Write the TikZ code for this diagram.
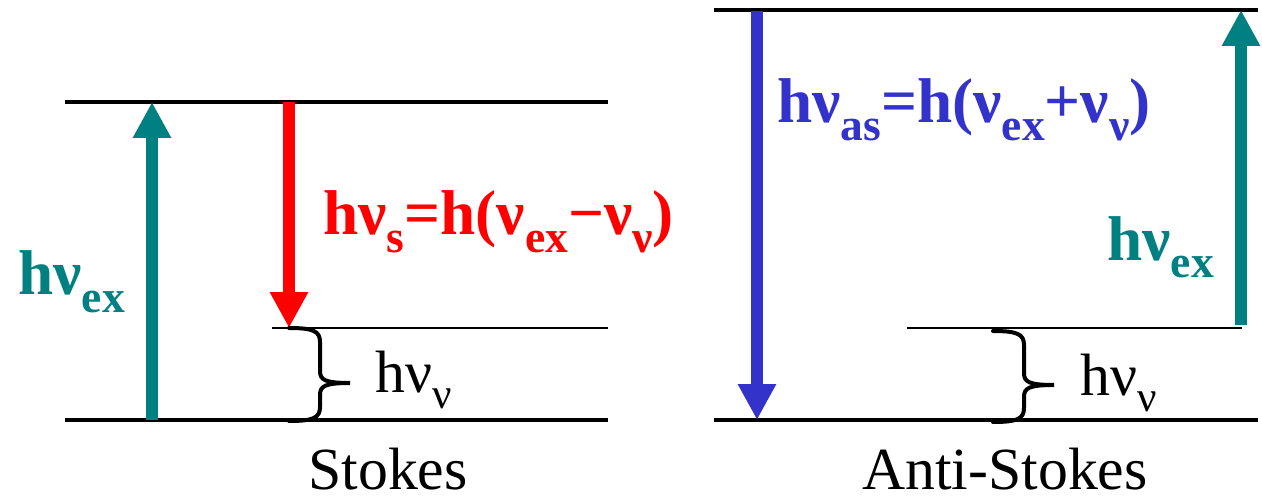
\documentclass[tikz,border=0pt]{standalone}
\usepackage{fontspec}
\setmainfont{Liberation Serif}
\usepackage{xcolor}
\usetikzlibrary{arrows.meta}
\definecolor{exteal}{RGB}{0,128,128}
\definecolor{asblue}{RGB}{51,51,204}
\newcommand{\lo}[1]{\raisebox{-0.28em}{\scalebox{0.72}{#1}}}
\newcommand{\boldlbl}{\fontsize{36}{40}\selectfont\bfseries}
\newcommand{\reglbl}{\fontsize{34}{40}\selectfont}
% x, top, bottom, tip of a right-pointing curly brace
\newcommand{\vbrace}[4]{%
  \draw[bracestroke] (#1,#2) .. controls ({#1+24},{#2}) and ({#1+31},{#2+3}) .. ({#1+31},{#2+14})
    -- ({#1+31},{#4-12}) .. controls ({#1+31},{#4-3}) and ({#1+36},{#4}) .. ({#1+61},{#4})
    .. controls ({#1+36},{#4}) and ({#1+31},{#4+3}) .. ({#1+31},{#4+12})
    -- ({#1+31},{#3-14}) .. controls ({#1+31},{#3-3}) and ({#1+24},{#3}) .. (#1,#3);}

\begin{document}
\begin{tikzpicture}[x=0.02cm,y=-0.02cm,
  level/.style={line width=0.065cm},
  sublevel/.style={line width=0.028cm},
  photon/.style={line width=0.24cm,-{Triangle[length=0.72cm,width=0.72cm]}},
  bracestroke/.style={line width=0.08cm,line cap=round},
  lbl/.style={inner sep=0pt,anchor=base west}]
  \useasboundingbox (0,0) rectangle (1262,500);
  % Stokes
  \coordinate (sT) at (65,102); \coordinate (sTr) at (608,102);
  \coordinate (sM) at (272,328); \coordinate (sMr) at (608,328);
  \coordinate (sB) at (65,420); \coordinate (sBr) at (608,420);
  \draw[level] (sT) -- (sTr);
  \draw[sublevel] (sM) -- (sMr);
  \draw[level] (sB) -- (sBr);
  \coordinate (exfrom) at (152,420); \coordinate (exto) at (152,102);
  \coordinate (sfrom) at (289,102); \coordinate (sto) at (289,328);
  \draw[photon,exteal] (exfrom) -- (exto);
  \draw[photon,red] (sfrom) -- (sto);
  \vbrace{289}{328}{421}{383}
  \node[lbl,exteal] (exl) at (18,295) {\boldlbl hν\lo{ex}};
  \node[lbl,red] (sl) at (323,235) {\boldlbl hν\lo{s}=h(ν\lo{ex}−ν\lo{ν})};
  \node[lbl] (vibl) at (375,392) {\reglbl hν\lo{ν}};
  \node[inner sep=0pt,anchor=base] (stokes) at (388,489) {\reglbl Stokes};
  % Anti-Stokes
  \coordinate (aT) at (714,10); \coordinate (aTr) at (1258,10);
  \coordinate (aM) at (907,328); \coordinate (aMr) at (1242,328);
  \coordinate (aB) at (714,420); \coordinate (aBr) at (1258,420);
  \draw[level] (aT) -- (aTr);
  \draw[sublevel] (aM) -- (aMr);
  \draw[level] (aB) -- (aBr);
  \coordinate (asfrom) at (757,11); \coordinate (asto) at (757,420);
  \coordinate (ex2from) at (1241,325); \coordinate (ex2to) at (1241,10);
  \draw[photon,asblue] (asfrom) -- (asto);
  \draw[photon,exteal] (ex2from) -- (ex2to);
  \vbrace{993}{331}{422}{385}
  \node[lbl,asblue] (asl) at (777,123) {\boldlbl hν\lo{as}=h(ν\lo{ex}+ν\lo{ν})};
  \node[lbl,exteal] (ex2l) at (1107,260) {\boldlbl hν\lo{ex}};
  \node[lbl] (vib2l) at (1080,395) {\reglbl hν\lo{ν}};
  \node[inner sep=0pt,anchor=base] (antistokes) at (1005,489) {\reglbl Anti-Stokes};
\end{tikzpicture}
\end{document}
